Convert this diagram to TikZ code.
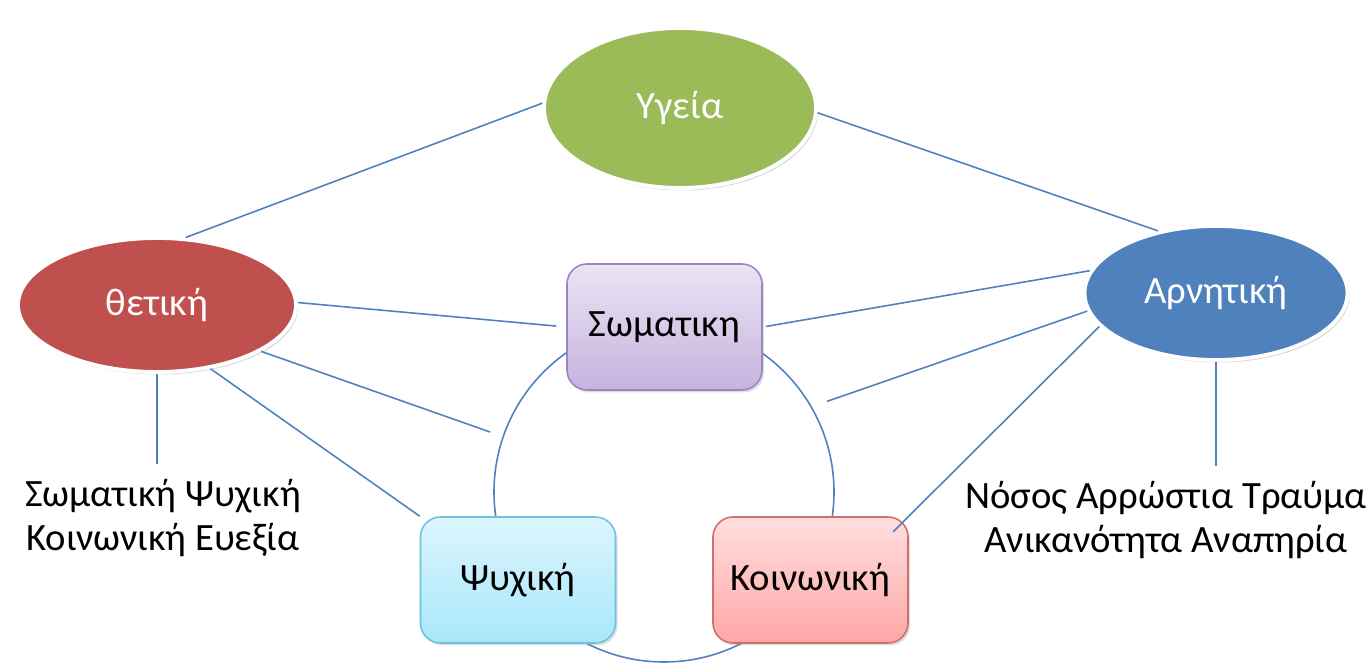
\documentclass[tikz,border=0pt]{standalone}
\usepackage{fontspec}
\setmainfont{Carlito}
\usetikzlibrary{shapes.geometric,shadows}

\definecolor{linkblue}{HTML}{4F81BD}
\definecolor{ovgreen}{HTML}{9BBB59}
\definecolor{ovred}{HTML}{C0504D}
\definecolor{ovblue}{HTML}{4F81BD}
\definecolor{purtop}{HTML}{EAE4F4}
\definecolor{purbot}{HTML}{C7B3DF}
\definecolor{purline}{HTML}{9C85BF}
\definecolor{cyantop}{HTML}{DCF5FD}
\definecolor{cyanbot}{HTML}{A8E8FB}
\definecolor{cyanline}{HTML}{6CC3DB}
\definecolor{pinktop}{HTML}{FFDEDE}
\definecolor{pinkbot}{HTML}{FFA6A6}
\definecolor{pinkline}{HTML}{D0706D}

\tikzset{
    oval/.style={ellipse, draw=white, line width=2.2pt, text=white, inner sep=0pt,
        drop shadow={shadow xshift=0.04cm, shadow yshift=-0.05cm, opacity=0.3}},
    panel/.style={rectangle, rounded corners=0.4cm, minimum width=3.9cm,
        minimum height=2.52cm, line width=0.9pt,
        drop shadow={shadow xshift=0.04cm, shadow yshift=-0.05cm, opacity=0.25}},
    link/.style={draw=linkblue, line width=0.9pt},
    caption/.style={align=center}
}

\begin{document}
\begin{tikzpicture}[font=\fontsize{22}{24.5}\selectfont]
        \useasboundingbox (0,0) rectangle (27.36,-13.32);
        \node[circle, link, minimum size=6.8cm](C) at (13.28,-9.84) {};
        \node[oval, fill=ovgreen, minimum width=5.44cm, minimum height=3.2cm](Y) at (13.6,-2.16) {Υγεία};
        \node[oval, fill=ovred, minimum width=5.56cm, minimum height=2.68cm](P) at (3.14,-6.1) {θετική};
        \node[oval, fill=ovblue, minimum width=5.26cm, minimum height=2.68cm](N) at (24.32,-5.86) {Αρνητική};
        \node[panel, draw=purline, top color=purtop, bottom color=purbot](S) at (13.29,-6.54) {Σωματικη};
        \node[panel, draw=cyanline, top color=cyantop, bottom color=cyanbot](Ps) at (10.36,-11.6) {Ψυχική};
        \node[panel, draw=pinkline, top color=pinktop, bottom color=pinkbot](K) at (16.21,-11.6) {Κοινωνική};
        \node[caption](L) at (3.26,-10.36) {Σωματική Ψυχική\\Κοινωνική Ευεξία};
        \node[caption](R) at (23.32,-10.4) {Νόσος Αρρώστια Τραύμα\\Ανικανότητα Αναπηρία};
        \path[link]
            (P.67) edge (Y.178)
            (P.1)  edge [shorten >=0.2cm] (S.west)
            (P.-24) edge [shorten >=0.26cm] (C.161)
            (P.-50) edge (Ps.north west)
            (P.south) edge [shorten >=0.2cm] (P.south |- L.north)
            (Y.-2) edge (N.133)
            (N.170) edge [shorten >=0.06cm] (S.east)
            (N.188) edge [shorten >=0.32cm] (C.30)
            (N.196) edge [shorten >=-0.44cm] (K.north east)
            (N.south) edge [shorten >=0.2cm] (N.south |- R.north)
            ;
    \end{tikzpicture}
\end{document}
